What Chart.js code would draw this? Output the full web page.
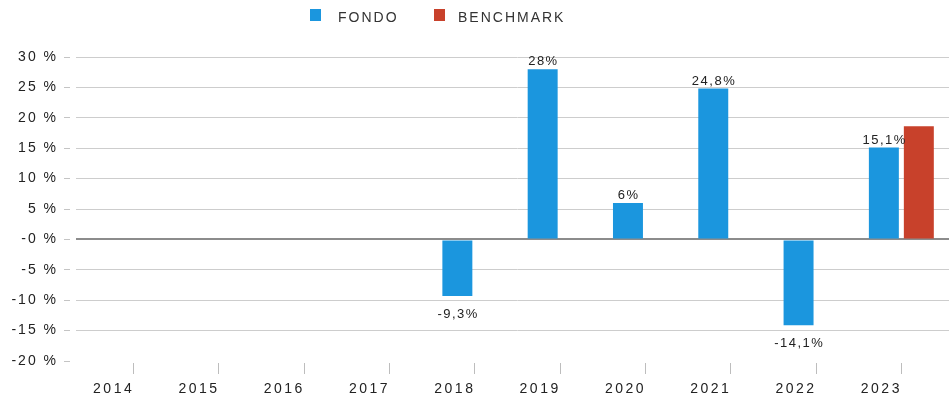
<!DOCTYPE html>
<html><head><meta charset="utf-8">
<script src="https://cdn.jsdelivr.net/npm/chart.js@4.4.0/dist/chart.umd.min.js"></script>
<style>
html,body{margin:0;padding:0;background:#fff;}
#wrap{position:relative;width:949px;height:403px;overflow:hidden;}
canvas{position:absolute;left:0;top:0;}
#legend{position:absolute;left:0;top:0;width:949px;height:30px;font-family:'Liberation Sans',Arial,sans-serif;font-size:14px;color:#333;letter-spacing:2px;}
.item{position:absolute;top:0;height:30px;}
.box{position:absolute;left:0;top:9px;width:11px;height:12px;}
.lbl{position:absolute;top:9px;white-space:nowrap;line-height:16px;}
</style></head><body>
<div id="wrap"><canvas id="c" width="949" height="403"></canvas><div id="legend"></div></div>
<script>
const categories = ['2014','2015','2016','2017','2018','2019','2020','2021','2022','2023'];
const fondoValues = [null,null,null,null,-9.3,28,6,24.8,-14.1,15.1];
const benchmarkValues = [null,null,null,null,null,null,null,null,null,18.6];
const fondoLabels = [null,null,null,null,'-9,3%','28%','6%','24,8%','-14,1%','15,1%'];
const yTickValues = [30,25,20,15,10,5,0,-5,-10,-15,-20];
const yTickLabels = ['30 %','25 %','20 %','15 %','10 %','5 %','-0 %','-5 %','-10 %','-15 %','-20 %'];
const seriesNames = ['FONDO','BENCHMARK'];
const seriesColors = ['#1b96de','#c8412b'];

// HTML legend
const legendPos = [{box:310,text:338},{box:434,text:458}];
const legendEl = document.getElementById('legend');
seriesNames.forEach((n,i)=>{
  const it=document.createElement('div'); it.className='item'; it.style.left=legendPos[i].box+'px';
  const b=document.createElement('div'); b.className='box'; b.style.background=seriesColors[i];
  const t=document.createElement('div'); t.className='lbl'; t.style.left=(legendPos[i].text-legendPos[i].box)+'px'; t.textContent=n;
  it.appendChild(b); it.appendChild(t); legendEl.appendChild(it);
});

const FONT='Liberation Sans, Arial, sans-serif';
const gridColor = (v)=> v===0 ? '#8c8c8c' : (v===-20 ? 'rgba(0,0,0,0)' : '#cdcdcd');
const gridWidth = (v)=> v===0 ? 2 : 1;

const spacingPlugin = {
  id:'spacing',
  beforeDraw(chart){
    [['x','2.5px'],['y','2px']].forEach(([id,sp])=>{
      const s=chart.scales[id]; if(!s||s._sp) return;
      const orig=s.drawLabels;
      s.drawLabels=function(area){ const c=this.ctx; c.save(); c.letterSpacing=sp; orig.call(this,area); c.restore(); };
      s._sp=true;
    });
  }
};

const yDashPlugin = {
  id:'yDash',
  beforeDatasetsDraw(chart){
    const s=chart.scales.y, ctx=chart.ctx, area=chart.chartArea;
    ctx.save();
    s.ticks.forEach(t=>{
      const yp=s.getPixelForValue(t.value);
      ctx.strokeStyle='#c4c4c4'; ctx.lineWidth=1;
      const y1=Math.round(yp+0.5)-0.5;
      ctx.beginPath(); ctx.moveTo(64,y1); ctx.lineTo(70,y1); ctx.stroke();
      const w=gridWidth(t.value);
      const y2=Math.round(yp+w/2)-w/2;
      ctx.strokeStyle=gridColor(t.value); ctx.lineWidth=w;
      ctx.beginPath(); ctx.moveTo(area.right,y2); ctx.lineTo(chart.width,y2); ctx.stroke();
    });
    ctx.restore();
  }
};

const valueLabelPlugin = {
  id:'valueLabels',
  afterDatasetsDraw(chart){
    const ctx=chart.ctx, meta=chart.getDatasetMeta(0);
    ctx.save();
    ctx.font='13px '+FONT; ctx.fillStyle='#222'; ctx.textAlign='center'; ctx.textBaseline='alphabetic';
    ctx.letterSpacing='1.5px';
    meta.data.forEach((bar,i)=>{
      const v=fondoValues[i]; if(v===null||v===undefined) return;
      const y = v>=0 ? bar.y-4 : bar.y+22;
      ctx.fillText(fondoLabels[i], bar.x+0.75, y);
    });
    ctx.restore();
  }
};

new Chart(document.getElementById('c'), {
  type:'bar',
  data:{
    labels:categories,
    datasets:[
      {label:seriesNames[0], data:fondoValues, backgroundColor:seriesColors[0], borderWidth:0, categoryPercentage:0.82, barPercentage:0.857},
      {label:seriesNames[1], data:benchmarkValues, backgroundColor:seriesColors[1], borderWidth:0, categoryPercentage:0.82, barPercentage:0.857}
    ]
  },
  options:{
    responsive:false, animation:false,
    layout:{padding:{top:57,right:5,bottom:0,left:0}},
    plugins:{legend:{display:false}, tooltip:{enabled:false}},
    scales:{
      x:{
        offset:true,
        border:{display:false},
        grid:{drawOnChartArea:false, offset:false, tickLength:13, tickColor:'#bdbdbd', tickWidth:1, tickBorderDash:[0,2,11,0]},
        ticks:{labelOffset:-20, padding:7, color:'#222', font:{family:FONT,size:14}, maxRotation:0, autoSkip:false},
        afterFit(s){ s.height=42; }
      },
      y:{
        min:-20, max:30,
        border:{display:false},
        ticks:{stepSize:5, padding:18, color:'#222', font:{family:FONT,size:14},
          callback:(v)=>{ const k=yTickValues.indexOf(v); return k>=0?yTickLabels[k]:''; }},
        grid:{
          color:(c)=> gridColor(c.tick.value),
          lineWidth:(c)=> gridWidth(c.tick.value),
          tickLength:15
        },
        afterFit(s){ s.width=91; }
      }
    }
  },
  plugins:[spacingPlugin, yDashPlugin, valueLabelPlugin]
});
</script>
</body></html>
